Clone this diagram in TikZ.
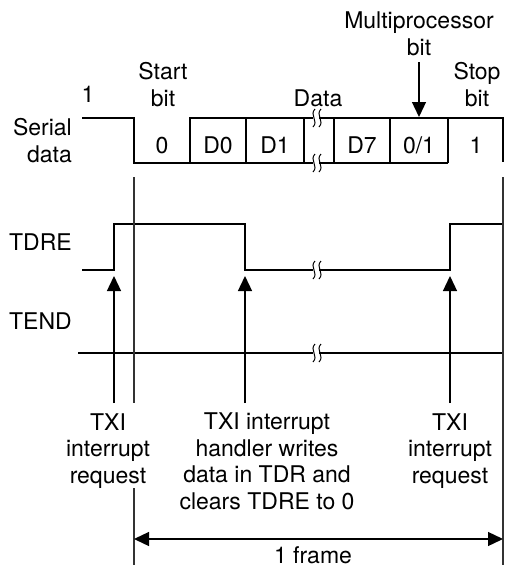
\documentclass[tikz,border=0pt]{standalone}
\usepackage{fontspec}
\setmainfont{TeX Gyre Heros}
\usetikzlibrary{arrows.meta,positioning}
\tikzset{
  >={Triangle[length=15pt,width=14pt]},
  sig/.style={line width=1.3pt,line join=miter},
  tdresig/.style={line width=2pt,line join=miter},
  lbl/.style={font=\fontsize{23}{26.5}\selectfont,inner sep=0pt,align=center,anchor=base},
  sidelbl/.style={lbl,align=right,anchor=base east},
  irq/.style={->,line width=1.3pt},
  frm/.style={<->,line width=1.3pt},
  guide/.style={line width=1.1pt,black!80},
  brk/.style={line width=1pt},
}
% wavy break mark at (x,y)
\newcommand\wavebreak[2]{%
  \fill[white] (#1-3,#2-3) rectangle (#1+3,#2+3);
  \draw[brk] (#1-1,#2-9) .. controls (#1-7,#2-3) and (#1+3,#2+3) .. (#1-3,#2+9);
  \draw[brk] (#1+5,#2-9) .. controls (#1-1,#2-3) and (#1+9,#2+3) .. (#1+3,#2+9);
}
\begin{document}
\begin{tikzpicture}[x=1pt,y=-1pt]
  \useasboundingbox (0,0) rectangle (504,568);

  % serial data waveform
  \draw[sig] (82,118) -- (134,118) -- (134,163) -- (448,163);
  \draw[sig] (190,163) -- (190,118) -- (504,118);
  \foreach \x in {246,304,334,390,448} {
    \draw[sig] (\x,118) -- (\x,163);
  }
  \draw[sig] (503,118) -- (503,162);
  \wavebreak{316}{118}
  \wavebreak{316}{163}
  \foreach \x/\txt [count=\i] in {162/0,218/D0,275/D1,362/D7,419/0\slash 1,476/1} {
    \node[lbl] (cell\i) at (\x,153) {\txt};
  }

  % TDRE and TEND
  \draw[tdresig] (82,270) -- (114,270) -- (114,224) -- (245,224) -- (245,270)
    -- (450,270) -- (450,224) -- (504,224);
  \wavebreak{316}{270}
  \draw[sig] (78,353) -- (504,353);
  \wavebreak{316}{353}

  % labels
  \node[sidelbl] (serial) at (72,162) {Serial\\data};
  \node[sidelbl] (tdre) at (72,250) {TDRE};
  \node[sidelbl] (tend) at (72,329) {TEND};
  \node[lbl] (one) at (88,102) {1};
  \node[lbl] (start) at (163,106) {Start\\bit};
  \node[lbl] (data) at (318,106) {Data};
  \node[lbl] (mpb) at (419,55) {Multiprocessor\\bit};
  \node[lbl] (stop) at (477,106) {Stop\\bit};
  \coordinate (mpbtip) at (419,117);
  \draw[irq] (419,62) -- (mpbtip);

  % interrupt arrows
  \node[lbl] (irq1) at (108,483) {TXI\\interrupt\\request};
  \node[lbl] (irq2) at (267,509) {TXI interrupt\\handler writes\\data in TDR and\\clears TDRE to 0};
  \node[lbl] (irq3) at (450,483) {TXI\\interrupt\\request};
  \foreach \x/\n in {114/a,245/b,450/c} {
    \coordinate (src\n) at (\x,403);
    \coordinate (dst\n) at (\x,276);
    \draw[irq] (src\n) -- (dst\n);
  }

  % frame
  \draw[guide] (134,177) -- (134,403);
  \draw[guide] (134,488) -- (134,565);
  \draw[guide] (503,177) -- (503,565);
  \coordinate (fl) at (134,539);
  \coordinate (fr) at (503,539);
  \draw[frm] (fl) -- (fr);
  \node[lbl] (frame) at (313,563) {1 frame};
\end{tikzpicture}
\end{document}
